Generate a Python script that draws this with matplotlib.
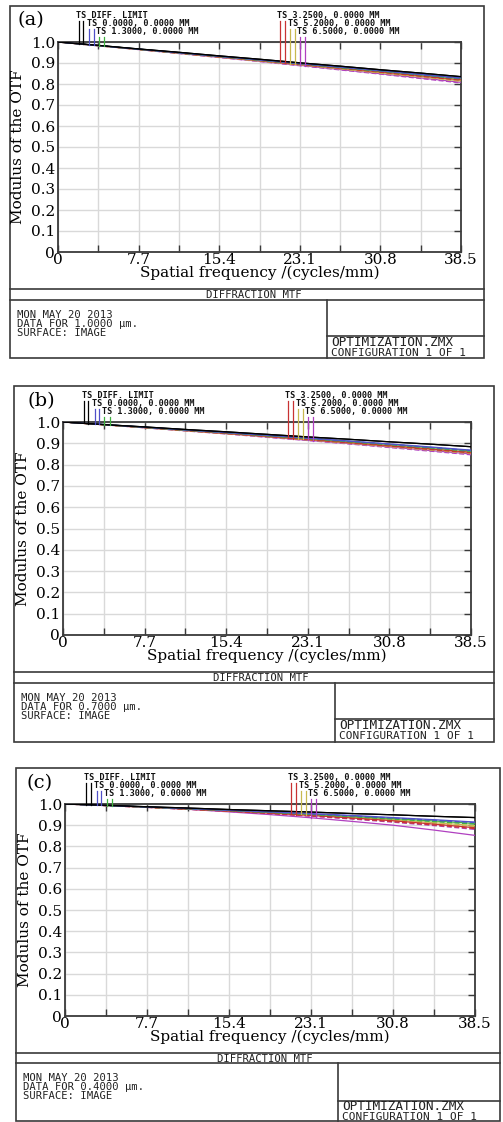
import matplotlib
matplotlib.use('Agg')
import matplotlib.pyplot as plt
import matplotlib.transforms as mtransforms
from matplotlib.patches import Rectangle
import numpy as np

W, H = 503, 1122

# ---------------- data ----------------
freq = [0, 3.85, 7.7, 11.55, 15.4, 19.25, 23.1, 26.95, 30.8, 34.65, 38.5]
xticks = [0, 7.7, 15.4, 23.1, 30.8, 38.5]
xtick_labels = ['0', '7.7', '15.4', '23.1', '30.8', '38.5']
xminor = [3.85, 11.55, 19.25, 26.95, 34.65]
yticks = [0, 0.1, 0.2, 0.3, 0.4, 0.5, 0.6, 0.7, 0.8, 0.9, 1.0]
ytick_labels = ['0', '0.1', '0.2', '0.3', '0.4', '0.5', '0.6', '0.7', '0.8', '0.9', '1.0']

field_labels = ['TS DIFF. LIMIT', 'TS 0.0000, 0.0000 MM', 'TS 1.3000, 0.0000 MM',
                'TS 3.2500, 0.0000 MM', 'TS 5.2000, 0.0000 MM', 'TS 6.5000, 0.0000 MM']
field_colors = ['#000000', '#5050c8', '#40b040', '#c83232', '#c8b850', '#b040c0']

# panel (a) : 1.0 um
a_diff = [1.000, 0.984, 0.967, 0.951, 0.934, 0.918, 0.901, 0.885, 0.868, 0.852, 0.835]
a_t0 = [1.000, 0.983, 0.966, 0.949, 0.932, 0.915, 0.898, 0.881, 0.864, 0.846, 0.829]
a_s0 = [1.000, 0.983, 0.966, 0.949, 0.932, 0.915, 0.897, 0.880, 0.863, 0.845, 0.827]
a_t1 = [1.000, 0.983, 0.966, 0.949, 0.931, 0.914, 0.897, 0.879, 0.862, 0.844, 0.826]
a_s1 = [1.000, 0.983, 0.965, 0.948, 0.931, 0.913, 0.896, 0.878, 0.861, 0.843, 0.824]
a_t2 = [1.000, 0.983, 0.965, 0.948, 0.930, 0.912, 0.894, 0.876, 0.858, 0.839, 0.820]
a_s2 = [1.000, 0.983, 0.965, 0.947, 0.929, 0.911, 0.893, 0.875, 0.856, 0.837, 0.818]
a_t3 = [1.000, 0.982, 0.965, 0.947, 0.929, 0.910, 0.892, 0.873, 0.854, 0.835, 0.815]
a_s3 = [1.000, 0.982, 0.964, 0.946, 0.928, 0.909, 0.891, 0.872, 0.852, 0.833, 0.813]
a_t4 = [1.000, 0.982, 0.964, 0.946, 0.927, 0.908, 0.889, 0.869, 0.849, 0.829, 0.808]
a_s4 = [1.000, 0.982, 0.964, 0.945, 0.926, 0.907, 0.887, 0.867, 0.847, 0.826, 0.805]

# panel (b) : 0.7 um
b_diff = [1.000, 0.988, 0.977, 0.965, 0.954, 0.942, 0.930, 0.919, 0.907, 0.896, 0.884]
b_t0 = [1.000, 0.988, 0.976, 0.963, 0.951, 0.938, 0.925, 0.911, 0.897, 0.883, 0.868]
b_s0 = [1.000, 0.988, 0.975, 0.963, 0.950, 0.937, 0.924, 0.910, 0.896, 0.881, 0.866]
b_t1 = [1.000, 0.988, 0.975, 0.962, 0.950, 0.936, 0.923, 0.909, 0.895, 0.880, 0.865]
b_s1 = [1.000, 0.987, 0.975, 0.962, 0.949, 0.935, 0.922, 0.907, 0.893, 0.878, 0.862]
b_t2 = [1.000, 0.987, 0.974, 0.961, 0.947, 0.933, 0.919, 0.904, 0.889, 0.874, 0.858]
b_s2 = [1.000, 0.987, 0.974, 0.960, 0.946, 0.932, 0.917, 0.902, 0.887, 0.871, 0.855]
b_t3 = [1.000, 0.987, 0.974, 0.960, 0.946, 0.932, 0.917, 0.902, 0.887, 0.872, 0.856]
b_s3 = [1.000, 0.987, 0.973, 0.959, 0.945, 0.931, 0.916, 0.900, 0.884, 0.868, 0.852]
b_t4 = [1.000, 0.987, 0.973, 0.959, 0.945, 0.930, 0.914, 0.899, 0.883, 0.866, 0.850]
b_s4 = [1.000, 0.987, 0.973, 0.958, 0.944, 0.928, 0.913, 0.897, 0.880, 0.863, 0.846]

# panel (c) : 0.4 um
c_diff = [1.000, 0.994, 0.987, 0.981, 0.974, 0.968, 0.962, 0.955, 0.949, 0.942, 0.936]
c_t0 = [1.000, 0.993, 0.986, 0.979, 0.971, 0.963, 0.955, 0.946, 0.936, 0.926, 0.915]
c_s0 = [1.000, 0.993, 0.986, 0.978, 0.970, 0.962, 0.953, 0.944, 0.934, 0.923, 0.912]
c_t1 = [1.000, 0.993, 0.986, 0.978, 0.970, 0.961, 0.952, 0.942, 0.931, 0.920, 0.908]
c_s1 = [1.000, 0.993, 0.985, 0.977, 0.969, 0.960, 0.950, 0.940, 0.929, 0.917, 0.905]
c_t2 = [1.000, 0.993, 0.985, 0.976, 0.967, 0.957, 0.946, 0.934, 0.921, 0.905, 0.888]
c_s2 = [1.000, 0.992, 0.984, 0.975, 0.966, 0.955, 0.944, 0.931, 0.917, 0.901, 0.884]
c_t3 = [1.000, 0.993, 0.985, 0.977, 0.968, 0.959, 0.949, 0.938, 0.926, 0.912, 0.898]
c_s3 = [1.000, 0.993, 0.985, 0.976, 0.967, 0.957, 0.947, 0.935, 0.922, 0.908, 0.893]
c_t4 = [1.000, 0.993, 0.985, 0.975, 0.963, 0.950, 0.935, 0.918, 0.900, 0.877, 0.852]
c_s4 = [1.000, 0.992, 0.984, 0.975, 0.965, 0.954, 0.942, 0.929, 0.914, 0.898, 0.880]

# legend marker positions (cycles/mm) for each field: T and S ticks
marker_x = [[2.0, 2.4], [3.0, 3.4], [3.9, 4.4], [21.2, 21.7], [22.2, 22.6], [23.1, 23.6]]
marker_row = [0, 1, 2, 0, 1, 2]

panel_letters = ['(a)', '(b)', '(c)']
wavelengths = ['1.0000', '0.7000', '0.4000']
panel_data = [
    (a_diff, [(a_t0, a_s0), (a_t1, a_s1), (a_t2, a_s2), (a_t3, a_s3), (a_t4, a_s4)]),
    (b_diff, [(b_t0, b_s0), (b_t1, b_s1), (b_t2, b_s2), (b_t3, b_s3), (b_t4, b_s4)]),
    (c_diff, [(c_t0, c_s0), (c_t1, c_s1), (c_t2, c_s2), (c_t3, c_s3), (c_t4, c_s4)]),
]

# ---------------- layout (pixels) ----------------
layouts = [
    dict(box=(10, 6, 484, 358), plot=(58, 42, 461, 252), band=(289, 300), div_x=327, div_y=336,
         letter_xy=(18, 20)),
    dict(box=(14, 386, 494, 742), plot=(63, 422, 471, 635), band=(672, 683), div_x=335, div_y=719,
         letter_xy=(28, 401)),
    dict(box=(16, 768, 500, 1121), plot=(65, 804, 475, 1016), band=(1053, 1063), div_x=338, div_y=1101,
         letter_xy=(27, 783)),
]

SERIF = 'DejaVu Serif'
MONO = 'DejaVu Sans Mono'
EDGE = '#3a3a3a'
TXT = '#222222'

fig = plt.figure(figsize=(W / 100, H / 100), dpi=100)
fig.patch.set_facecolor('white')

bg = fig.add_axes([0, 0, 1, 1], zorder=0)
bg.set_xlim(0, W)
bg.set_ylim(H, 0)
bg.axis('off')


def px_rect(x1, y1, x2, y2):
    return [x1 / W, 1 - y2 / H, (x2 - x1) / W, (y2 - y1) / H]


for i, lay in enumerate(layouts):
    bx1, by1, bx2, by2 = lay['box']
    # outer box and footer divisions
    bg.add_patch(Rectangle((bx1, by1), bx2 - bx1, by2 - by1, fill=False, ec=EDGE, lw=1.2))
    b1, b2 = lay['band']
    bg.plot([bx1, bx2], [b1, b1], color=EDGE, lw=1.2)
    bg.plot([bx1, bx2], [b2, b2], color=EDGE, lw=1.2)
    bg.plot([lay['div_x'], lay['div_x']], [b2, by2], color=EDGE, lw=1.2)
    bg.plot([lay['div_x'], bx2], [lay['div_y'], lay['div_y']], color=EDGE, lw=1.2)
    bg.text((bx1 + bx2) / 2 + 7, (b1 + b2) / 2 + 0.5, 'DIFFRACTION MTF', family=MONO, fontsize=7.6,
            ha='center', va='center', color=TXT)
    fx = bx1 + 7
    fy = b2 + 15
    for k, line in enumerate(['MON MAY 20 2013', 'DATA FOR %s µm.' % wavelengths[i], 'SURFACE: IMAGE']):
        bg.text(fx, fy + 9 * k, line, family=MONO, fontsize=7.6, ha='left', va='center', color=TXT)
    bg.text(lay['div_x'] + 4, lay['div_y'] + 6, 'OPTIMIZATION.ZMX', family=MONO, fontsize=9.2,
            ha='left', va='center', color=TXT)
    bg.text(lay['div_x'] + 4, lay['div_y'] + 16.5, 'CONFIGURATION 1 OF 1', family=MONO, fontsize=8.0,
            ha='left', va='center', color=TXT)
    bg.text(lay['letter_xy'][0], lay['letter_xy'][1], panel_letters[i], family=SERIF, fontsize=14,
            ha='left', va='center')

    # plot axes
    px1, py1, px2, py2 = lay['plot']
    ax = fig.add_axes(px_rect(px1, py1, px2, py2), zorder=2)
    ax.set_facecolor('white')
    ax.set_xlim(0, 38.5)
    ax.set_ylim(0, 1.0)
    ax.set_xticks(xticks)
    ax.set_xticklabels(xtick_labels)
    ax.set_xticks(xminor, minor=True)
    ax.set_yticks(yticks)
    ax.set_yticklabels(ytick_labels)
    ax.grid(True, which='both', axis='x', color='#d9d9d9', lw=1.0)
    ax.grid(True, which='major', axis='y', color='#d9d9d9', lw=1.0)
    ax.set_axisbelow(True)
    ax.tick_params(axis='x', which='both', direction='in', top=True, bottom=True, length=5,
                   width=1.0, color=EDGE, pad=1, labelsize=11)
    ax.tick_params(axis='y', which='both', direction='in', left=False, right=True, length=5,
                   width=1.0, color=EDGE, pad=2, labelsize=11)
    for lab in ax.get_xticklabels() + ax.get_yticklabels():
        lab.set_family(SERIF)
    for sp in ax.spines.values():
        sp.set_color(EDGE)
        sp.set_linewidth(1.3)
    ax.set_xlabel('Spatial frequency /(cycles/mm)', family=SERIF, fontsize=11, labelpad=-1)
    ax.set_ylabel('Modulus of the OTF', family=SERIF, fontsize=11, labelpad=4)

    diff, fields = panel_data[i]
    curves = [(diff, diff)] + fields
    # draw field curves (T solid, S dashed) then diffraction limit
    for j in range(len(curves) - 1, -1, -1):
        t, s = curves[j]
        col = field_colors[j]
        ax.plot(freq, s, color=col, lw=0.9, ls=(0, (4, 2)) if j > 0 else '-', zorder=3)
        ax.plot(freq, t, color=col, lw=0.9, zorder=3)

    # legend markers and labels
    ax_h = py2 - py1
    trans = mtransforms.blended_transform_factory(ax.transData, ax.transAxes)
    row_top_px = [21, 13, 5]
    for j in range(len(curves)):
        r = marker_row[j]
        ytop = 1 + row_top_px[r] / ax_h
        t, s = curves[j]
        for m, mx in enumerate(marker_x[j]):
            ybot = float(np.interp(mx, freq, t if m == 0 else s))
            ax.plot([mx, mx], [ybot, ytop], color=field_colors[j], lw=0.9, transform=trans,
                    clip_on=False, zorder=4)
        ax.text(marker_x[j][0] - 0.25, ytop + 1.0 / ax_h, field_labels[j], family=MONO,
                fontsize=6.1, fontweight='bold', ha='left', va='bottom', transform=trans,
                color='#111111')

fig.savefig('out.png', dpi=100, facecolor='white')
